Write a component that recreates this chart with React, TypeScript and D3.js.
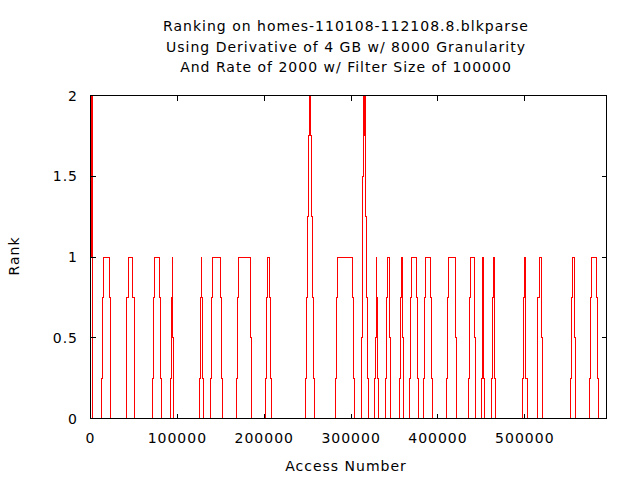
import React from 'react';
import * as d3 from 'd3';

// Title lines of the gnuplot output
const titleLines = [
  'Ranking on homes-110108-112108.8.blkparse',
  'Using Derivative of 4 GB w/ 8000 Granularity',
  'And Rate of 2000 w/ Filter Size of 100000',
];

const xTicks = [0, 100000, 200000, 300000, 400000, 500000];
const yTicks = [0, 0.5, 1, 1.5, 2];
const xMax = 594000;

// [access number, rank] - value holds until the next breakpoint
const rankSteps: [number, number][] = [
  [0, 1], [800, 2], [1800, 1], [2800, 0],
  [13200, 0.25], [14300, 0.75], [15500, 1], [21500, 0.75], [22600, 0.25], [23500, 0],
  [40900, 0.25], [42000, 0.75], [43200, 1], [48900, 0.75], [50100, 0.25], [51200, 0],
  [71100, 0.25], [72200, 0.75], [73400, 1], [78900, 0.75], [80100, 0.25], [81200, 0],
  [91600, 0.25], [92800, 0.75], [93900, 1], [94500, 0.5], [95100, 0],
  [125100, 0.25], [126200, 0.75], [127400, 1], [127900, 0.75], [128600, 0.25], [129700, 0],
  [137800, 0.25], [138900, 0.75], [140100, 1], [149300, 0.75], [150500, 0.25], [151600, 0],
  [168000, 0.25], [169200, 0.75], [170300, 1], [184200, 0.5], [185300, 0],
  [201300, 0.25], [202400, 0.75], [203600, 1], [205900, 0.75], [207000, 0.25], [208200, 0],
  [247400, 0.25], [248600, 0.75], [249700, 1.25], [250900, 1.75], [252000, 2], [252600, 1.75],
  [253100, 2], [253600, 1.75], [254300, 1.25], [255500, 0.75], [256600, 0.25], [257800, 0],
  [282000, 0.25], [283200, 0.75], [284300, 1], [301700, 0.75], [302800, 0.25], [304000, 0],
  [312000, 0.5], [313200, 1.5], [314400, 2], [314800, 1.75], [315200, 2], [316000, 1.75],
  [316900, 1.25], [317800, 0.75], [319000, 0.25], [320100, 0],
  [327500, 0.25], [328200, 0.5], [329200, 1], [329800, 0.75], [330700, 0.25], [331900, 0],
  [339700, 0.25], [340900, 0.75], [342000, 1], [344400, 0.5], [345500, 0],
  [355900, 0.25], [357000, 0.75], [358200, 1], [358700, 0.5], [359800, 0],
  [367400, 0.25], [368600, 0.75], [369700, 1], [375500, 0.75], [376700, 0.25], [377800, 0],
  [383600, 0.25], [384700, 0.75], [385900, 1], [391700, 0.75], [392800, 0.25], [394000, 0],
  [410100, 0.25], [411300, 0.75], [412400, 1], [420500, 0.5], [421700, 0],
  [435500, 0.25], [436700, 0.75], [437800, 1], [442400, 0.5], [443600, 0],
  [450200, 0.25], [451000, 0.75], [451700, 1], [452100, 0.5], [452800, 0.25], [454000, 0],
  [462100, 0.25], [463200, 0.75], [464400, 1], [464900, 0.75], [465500, 0.25], [466700, 0],
  [497800, 0.25], [499000, 0.75], [500100, 1], [500700, 0.75], [501300, 0.25], [502500, 0],
  [514000, 0.25], [515100, 0.75], [516300, 1], [518600, 0.5], [519800, 0],
  [552100, 0.25], [553200, 0.75], [554400, 1], [556700, 0.5], [557800, 0],
  [574000, 0.25], [575200, 0.75], [576300, 1], [582100, 0.75], [583200, 0.25], [584400, 0],
  [594000, 0],
];

const W = 640;
const H = 480;
const plot = { left: 90.5, right: 606.5, top: 95.5, bottom: 418.5 };
const tickLen = 5;
const font = "'DejaVu Sans', sans-serif";
const textStyle: React.CSSProperties = { fontFamily: font, fontSize: 14, letterSpacing: 1 };

export default function App() {
  const x = d3.scaleLinear().domain([0, xMax]).range([plot.left, plot.right]);
  const y = d3.scaleLinear().domain([0, 2]).range([plot.bottom, plot.top]);

  const line = d3
    .line<[number, number]>()
    .x((d) => x(d[0]))
    .y((d) => y(d[1]))
    .curve(d3.curveStepAfter);

  const fmtY = (v: number) => String(v);

  return (
    <div style={{ position: 'absolute', left: 0, top: 0 }}>
      <svg width={W} height={H} style={{ display: 'block', background: '#fff' }}>
        {/* title */}
        {titleLines.map((t, i) => (
          <text key={t} x={346} y={31 + i * 20.5} textAnchor="middle" fill="#000" style={textStyle}>
            {t}
          </text>
        ))}

        {/* data */}
        <path
          d={line(rankSteps) || ''}
          fill="none"
          stroke="#ff0000"
          strokeWidth={1}
          shapeRendering="crispEdges"
        />

        {/* ticks, mirrored on top/right */}
        <g stroke="#000" strokeWidth={1} shapeRendering="crispEdges">
          {xTicks.map((t) => (
            <g key={'x' + t}>
              <line x1={x(t)} x2={x(t)} y1={plot.bottom} y2={plot.bottom - tickLen} />
              <line x1={x(t)} x2={x(t)} y1={plot.top} y2={plot.top + tickLen} />
            </g>
          ))}
          {yTicks.map((t) => (
            <g key={'y' + t}>
              <line x1={plot.left} x2={plot.left + tickLen} y1={y(t)} y2={y(t)} />
              <line x1={plot.right} x2={plot.right - tickLen} y1={y(t)} y2={y(t)} />
            </g>
          ))}
          <rect
            x={plot.left}
            y={plot.top}
            width={plot.right - plot.left}
            height={plot.bottom - plot.top}
            fill="none"
          />
        </g>

        {/* tick labels */}
        {xTicks.map((t) => (
          <text key={'xl' + t} x={x(t)} y={443} textAnchor="middle" fill="#000" style={textStyle}>
            {t}
          </text>
        ))}
        {yTicks.map((t) => (
          <text key={'yl' + t} x={78} y={y(t) + 5} textAnchor="end" fill="#000" style={textStyle}>
            {fmtY(t)}
          </text>
        ))}

        {/* axis titles */}
        <text x={346} y={471} textAnchor="middle" fill="#000" style={textStyle}>
          Access Number
        </text>
        <text
          transform={`translate(19, 256) rotate(-90)`}
          textAnchor="middle"
          fill="#000"
          style={textStyle}
        >
          Rank
        </text>
      </svg>
    </div>
  );
}
